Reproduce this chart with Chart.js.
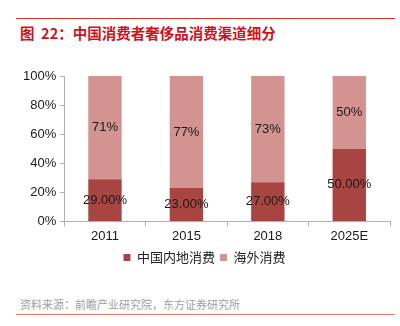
<!DOCTYPE html>
<html>
<head>
<meta charset="utf-8">
<script src="https://cdn.jsdelivr.net/npm/chart.js@4/dist/chart.umd.min.js"></script>
<style>
    body { margin: 0; background: #fff; width: 400px; height: 326px; position: relative; overflow: hidden; font-family: "Liberation Sans", "Noto Sans CJK SC", sans-serif; }
    .topline { position: absolute; left: 16px; top: 18px; width: 379px; height: 1px; background: #d9302c; }
    .title { position: absolute; left: 20px; top: 22px; font-size: 14.5px; font-weight: bold; color: #d0121b; font-family: "Noto Sans CJK SC", sans-serif; white-space: pre; }
    .chartbox { position: absolute; left: 0; top: 62px; width: 400px; height: 212px; }
    .source { position: absolute; left: 20px; top: 296px; font-size: 11px; color: #a0a0a0; font-family: "Noto Sans CJK SC", sans-serif; white-space: nowrap; }
    .bottomline { position: absolute; left: 16px; top: 314px; width: 379px; height: 1px; background: #e9776b; }
</style>
</head>
<body>
<div class="topline"></div>
<div class="title">图  22：中国消费者奢侈品消费渠道细分</div>
<div class="chartbox"><canvas id="channelChart"></canvas></div>
<div class="source">资料来源：前瞻产业研究院，东方证券研究所</div>
<div class="bottomline"></div>

<script>
// chart data
const years = ['2011', '2015', '2018', '2025E'];
const domesticShare = [29, 23, 27, 50];
const overseasShare = [71, 77, 73, 50];
const domesticLabels = ['29.00%', '23.00%', '27.00%', '50.00%'];
const overseasLabels = ['71%', '77%', '73%', '50%'];
const yTicks = ['0%', '20%', '40%', '60%', '80%', '100%'];

// draws the value text in the middle of each bar segment
const segmentLabels = {
    id: 'segmentLabels',
    afterDatasetsDraw(chart) {
        const ctx = chart.ctx;
        ctx.save();
        ctx.font = '13px "Liberation Sans", Arial, sans-serif';
        ctx.fillStyle = '#1a1a1a';
        ctx.textAlign = 'center';
        ctx.textBaseline = 'middle';
        chart.data.datasets.forEach((ds, i) => {
            const meta = chart.getDatasetMeta(i);
            meta.data.forEach((bar, j) => {
                const mid = (bar.y + bar.base) / 2;
                ctx.fillText(ds.valueLabels[j], bar.x, mid);
            });
        });
        ctx.restore();
    }
};

document.addEventListener('DOMContentLoaded', function() {
    const ctx = document.getElementById('channelChart');

    new Chart(ctx, {
        type: 'bar',
        data: {
            labels: years,
            datasets: [{
                label: '中国内地消费',
                data: domesticShare,
                valueLabels: domesticLabels,
                backgroundColor: '#a84543',
                barPercentage: 0.82,
                categoryPercentage: 0.5
            }, {
                label: '海外消费',
                data: overseasShare,
                valueLabels: overseasLabels,
                backgroundColor: '#d39391',
                barPercentage: 0.82,
                categoryPercentage: 0.5
            }]
        },
        options: {
            responsive: true,
            maintainAspectRatio: false,
            animation: false,
            layout: { padding: { left: 19, right: 10, top: 14, bottom: 0 } },
            plugins: {
                legend: {
                    position: 'bottom',
                    labels: {
                        usePointStyle: true,
                        pointStyle: 'rect',
                        boxWidth: 7,
                        boxHeight: 7,
                        padding: 5,
                        color: '#222',
                        font: { size: 13, family: '"Noto Sans CJK SC", sans-serif' }
                    }
                },
                tooltip: { enabled: false }
            },
            scales: {
                x: {
                    stacked: true,
                    grid: { drawOnChartArea: false, tickLength: 5, color: '#b0b0b0' },
                    border: { color: '#b0b0b0' },
                    ticks: { color: '#1a1a1a', font: { size: 13, family: '"Liberation Sans", Arial, sans-serif' }, padding: 2 }
                },
                y: {
                    stacked: true,
                    min: 0,
                    max: 100,
                    grid: { drawOnChartArea: false, tickLength: 4, color: '#b0b0b0' },
                    border: { color: '#b0b0b0' },
                    ticks: {
                        stepSize: 20,
                        color: '#1a1a1a',
                        padding: 4,
                        font: { size: 13, family: '"Liberation Sans", Arial, sans-serif' },
                        callback: function(value) {
                            return yTicks[value / 20];
                        }
                    }
                }
            }
        },
        plugins: [segmentLabels]
    });
});
</script>
</body>
</html>
